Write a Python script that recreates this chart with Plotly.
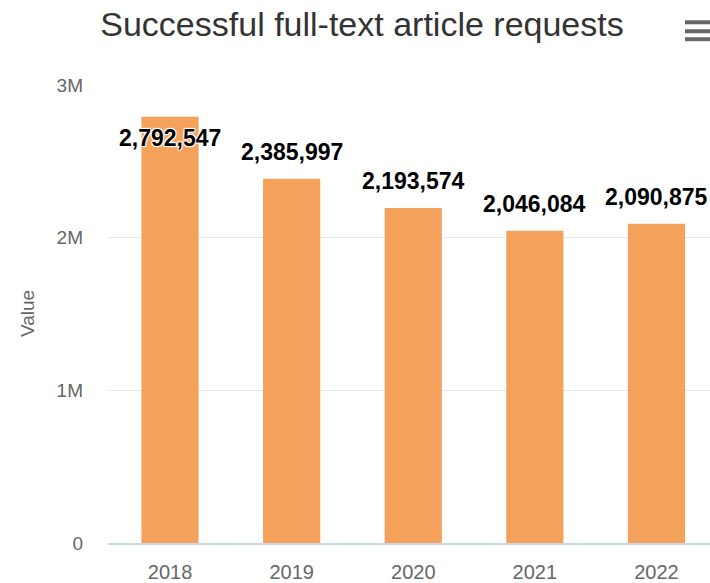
import plotly.graph_objects as go

years = ["2018", "2019", "2020", "2021", "2022"]
requests = [2792547, 2385997, 2193574, 2046084, 2090875]
y_tickvals = [0, 1000000, 2000000, 3000000]
y_ticktext = ["0", "1M", "2M", "3M"]

W, H = 710, 583
ML, MR, MT, MB = 108, 0, 85, 38
plot_h = H - MT - MB
ymax = 3000000
px_per_unit = plot_h / ymax

FONT = "Liberation Sans, Arial, sans-serif"
BAR_COLOR = "#F4A15B"

fig = go.Figure()
fig.add_trace(go.Bar(
    x=years, y=requests,
    marker=dict(color=BAR_COLOR, line=dict(width=0)),
    width=0.47,
    hoverinfo="x+y",
))

outline = ("white 1px 1px 1px, white -1px -1px 1px, white 1px -1px 1px, "
           "white -1px 1px 1px")
for i, v in enumerate(requests):
    top_px = (ymax - v) * px_per_unit
    shift = 27
    if top_px - shift - 12 < 0:
        shift = -21
    fig.add_annotation(
        x=i, y=v, xref="x", yref="y",
        text=f"{v:,}", showarrow=False,
        yanchor="middle", yshift=shift,
        font=dict(family=FONT, size=23, color="#000000", weight="bold",
                  shadow=outline),
    )

# y-axis title
fig.add_annotation(
    xref="paper", yref="paper",
    x=(27 - ML) / (W - ML - MR), y=(545 - 315) / plot_h,
    text="Value", textangle=-90, showarrow=False,
    xanchor="center", yanchor="middle",
    font=dict(family=FONT, size=19, color="#666666"),
)

# hamburger menu icon
pw = W - ML - MR
for ypx in [22, 31, 39]:
    yp = 1 + (MT - ypx) / plot_h
    fig.add_shape(type="line", xref="paper", yref="paper",
                  x0=(685 - ML) / pw, x1=(712 - ML) / pw, y0=yp, y1=yp,
                  line=dict(color="#666666", width=4))

fig.update_layout(
    width=W, height=H,
    margin=dict(l=ML, r=MR, t=MT, b=MB, pad=0),
    paper_bgcolor="white", plot_bgcolor="white",
    showlegend=False,
    title=dict(text="Successful full-text article requests",
               x=362 / W, xanchor="center", xref="container",
               y=1 - 24 / H, yanchor="middle", yref="container",
               font=dict(family=FONT, size=34, color="#333333")),
    bargap=0.53,
)
fig.update_xaxes(
    type="category", range=[-0.51, 4.44],
    showline=True, linecolor="#ccd6eb", linewidth=2,
    ticks="", showgrid=False, ticklabelstandoff=10,
    tickfont=dict(family=FONT, size=20, color="#666666"),
    fixedrange=True,
)
fig.update_yaxes(
    range=[0, ymax], tickvals=y_tickvals, ticktext=y_ticktext,
    showgrid=True, gridcolor="#e6e6e6", gridwidth=1,
    zeroline=False, showline=False, ticks="",
    ticklabelstandoff=24,
    tickfont=dict(family=FONT, size=19, color="#666666"),
    fixedrange=True,
)

fig.write_html(
    "out.html",
    config={"displayModeBar": False},
    post_script="document.body.style.margin='0';document.body.style.overflow='hidden';",
)
